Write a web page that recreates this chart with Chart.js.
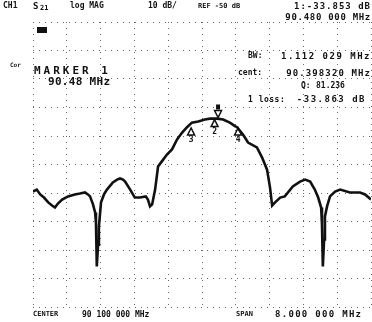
<!DOCTYPE html>
<html>
<head>
<meta charset="utf-8">
<script src="https://cdn.jsdelivr.net/npm/chart.js@4"></script>
<style>
  body { margin: 0; background: #fff; }
  #wrap { position: relative; width: 372px; height: 322px; }
  .t { position: absolute; font-family: "DejaVu Sans Mono", monospace; font-weight: bold; color: #111; line-height: 1; white-space: pre; }
</style>
</head>
<body>
<div id="wrap">
  <canvas id="analyzer-chart" width="372" height="322"></canvas>
  <div class="t" style="left:3px;top:2px;font-size:8px">CH1</div>
  <div class="t" style="left:33px;top:2px;font-size:9px">S</div>
  <div class="t" style="left:40px;top:5px;font-size:7px">21</div>
  <div class="t" style="left:37px;top:27px;width:10px;height:6px;background:#111"></div>
  <div class="t" style="left:70px;top:2px;font-size:8px">log MAG</div>
  <div class="t" style="left:148px;top:2px;font-size:8px">10 dB/</div>
  <div class="t" style="left:198px;top:3px;font-size:7px">REF -50 dB</div>
  <div class="t" style="right:1px;top:2px;font-size:9px;letter-spacing:1px">1:-33.853 dB</div>
  <div class="t" style="right:1px;top:13px;font-size:9px;letter-spacing:0.7px">90.480 000 MHz</div>
  <div class="t" style="left:248px;top:52px;font-size:8px">BW:</div>
  <div class="t" style="right:1px;top:52px;font-size:9px;letter-spacing:1.5px">1.112 029 MHz</div>
  <div class="t" style="left:238px;top:69px;font-size:8px">cent:</div>
  <div class="t" style="right:1px;top:69px;font-size:9px;letter-spacing:1.1px">90.398320 MHz</div>
  <div class="t" style="left:301px;top:82px;font-size:8px">Q:</div>
  <div class="t" style="left:316px;top:82px;font-size:8px">81.236</div>
  <div class="t" style="left:248px;top:96px;font-size:8px;letter-spacing:0.5px">1 loss:</div>
  <div class="t" style="right:6px;top:95px;font-size:9px;letter-spacing:1.5px">-33.863 dB</div>
  <div class="t" style="left:10px;top:62px;font-size:6px">Cor</div>
  <div class="t" style="left:34px;top:65px;font-size:11px;letter-spacing:3px">MARKER 1</div>
  <div class="t" style="left:48px;top:76px;font-size:11px;letter-spacing:0.3px">90.48 MHz</div>
  <div class="t" style="left:33px;top:311px;font-size:7px">CENTER</div>
  <div class="t" style="left:82px;top:311px;font-size:8px">90 100 000 MHz</div>
  <div class="t" style="left:236px;top:311px;font-size:7px">SPAN</div>
  <div class="t" style="left:275px;top:310px;font-size:9px;letter-spacing:1.3px">8.000 000 MHz</div>
</div>
<script>
// S21 trace: frequency (MHz) and level (dB)
let traceFreqs = [
  86.10, 86.19, 86.27, 86.36, 86.46, 86.55, 86.62, 86.69, 86.79, 86.93,
  87.09, 87.21, 87.33, 87.40, 87.45, 87.52, 87.57, 87.59, 87.61, 87.64,
  87.66, 87.71, 87.78, 87.85, 87.99, 88.09, 88.16, 88.23, 88.28, 88.40,
  88.51, 88.63, 88.77, 88.82, 88.87, 88.92, 88.99, 89.06, 89.15, 89.27,
  89.39, 89.51, 89.63, 89.74, 89.86, 90.01, 90.17, 90.29, 90.46, 90.60,
  90.76, 90.88, 90.93, 91.07, 91.19, 91.40, 91.52, 91.64, 91.71, 91.76,
  91.83, 91.95, 92.06, 92.25, 92.42, 92.54, 92.66, 92.77, 92.85, 92.92,
  92.94, 92.96, 92.99, 93.01, 93.06, 93.13, 93.25, 93.37, 93.60, 93.84,
  93.96, 94.10
];
let traceLevels = [
  -59.5, -58.8, -60.5, -61.6, -63.3, -64.4, -65.1, -63.7, -62.3, -61.2,
  -60.5, -60.2, -59.8, -60.5, -61.2, -64.0, -66.8, -70.4, -85.8, -78.1,
  -71.8, -63.3, -60.5, -58.8, -56.3, -55.3, -54.9, -55.3, -56.0, -58.8,
  -61.6, -61.6, -61.2, -62.3, -64.7, -64.0, -58.8, -50.7, -48.9, -46.5,
  -44.7, -41.2, -38.8, -37.0, -35.3, -34.9, -34.2, -33.9, -33.9, -34.2,
  -35.3, -36.5, -36.9, -39.5, -42.3, -44.0, -47.5, -51.8, -58.1, -64.4,
  -63.3, -61.6, -61.2, -57.7, -56.0, -55.3, -56.0, -58.8, -61.6, -65.1,
  -71.1, -85.8, -76.3, -68.2, -64.7, -61.2, -59.5, -58.8, -59.8, -59.8,
  -60.5, -62.3
];

// markers 1..4
let markerNames = ["1", "2", "3", "4"];
let markerFreqs = [90.480, 90.398, 89.842, 90.954];
let markerLevels = [-33.853, -33.9, -36.85, -36.85];

// graticule: 10 divisions, 0.8 MHz and 10 dB each
let gridFreqs = [86.1, 86.9, 87.7, 88.5, 89.3, 90.1, 90.9, 91.7, 92.5, 93.3, 94.1];
let gridLevels = [0, -10, -20, -30, -40, -50, -60, -70, -80, -90, -100];

let ink = '#111';

let markerPlugin = {
    id: 'markers',
    afterDatasetsDraw(chart) {
        let ctx = chart.ctx;
        let xs = chart.scales.x;
        let ys = chart.scales.y;
        ctx.save();
        ctx.strokeStyle = ink;
        ctx.fillStyle = ink;
        ctx.lineWidth = 1.5;
        ctx.font = 'bold 8px "DejaVu Sans Mono"';
        ctx.textAlign = 'center';
        ctx.textBaseline = 'top';
        for (let i = 0; i < markerNames.length; i++) {
            let px = xs.getPixelForValue(markerFreqs[i]);
            let py = ys.getPixelForValue(markerLevels[i]);
            ctx.beginPath();
            if (i === 0) {
                // active marker sits above the trace
                ctx.moveTo(px, py - 1);
                ctx.lineTo(px - 3.5, py - 8);
                ctx.lineTo(px + 3.5, py - 8);
                ctx.closePath();
                ctx.stroke();
                ctx.fillRect(px - 2, py - 14, 4, 5);
            } else {
                ctx.moveTo(px, py + 1);
                ctx.lineTo(px - 3.5, py + 8);
                ctx.lineTo(px + 3.5, py + 8);
                ctx.closePath();
                ctx.stroke();
                ctx.fillText(markerNames[i], px, py + 9);
            }
        }
        ctx.restore();
    }
};

let gridStyle = {
    color: '#666',
    lineWidth: 1,
    drawTicks: false
};

let canvas = document.getElementById("analyzer-chart").getContext("2d");

let chart = new Chart(canvas, {
    type: 'line',
    data: {
        datasets: [{
            label: 'S21',
            data: traceFreqs.map((f, i) => ({x: f, y: traceLevels[i]})),
            borderColor: ink,
            borderWidth: 2.6,
            pointRadius: 0,
            tension: 0
        }]
    },
    options: {
        responsive: false,
        animation: false,
        events: [],
        layout: {
            padding: {top: 22, bottom: 15, left: 33, right: 1}
        },
        plugins: {
            legend: {display: false},
            tooltip: {enabled: false}
        },
        scales: {
            x: {
                type: 'linear',
                min: 86.1,
                max: 94.1,
                afterBuildTicks: scale => {
                    scale.ticks = gridFreqs.map(v => ({value: v}));
                },
                ticks: {display: false},
                grid: gridStyle,
                border: {display: false, dash: [1, 5]}
            },
            y: {
                min: -100,
                max: 0,
                afterBuildTicks: scale => {
                    scale.ticks = gridLevels.map(v => ({value: v}));
                },
                ticks: {display: false},
                grid: gridStyle,
                border: {display: false, dash: [1, 5]}
            }
        }
    },
    plugins: [markerPlugin]
});
</script>
</body>
</html>
